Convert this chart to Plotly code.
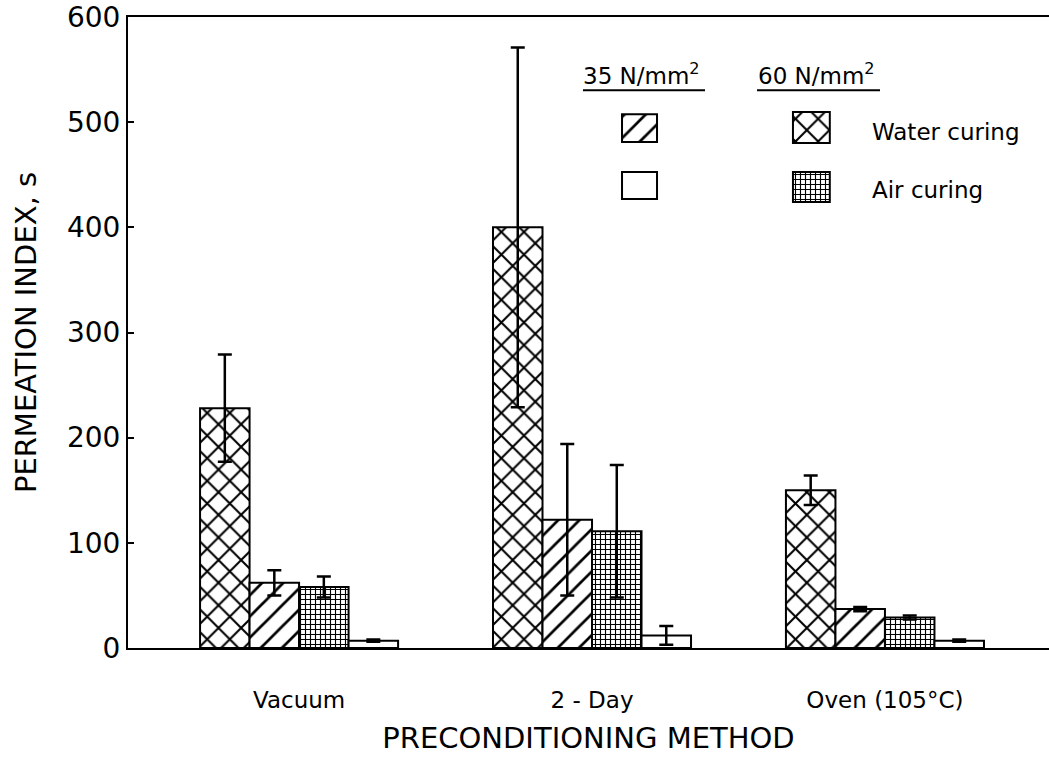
import plotly.graph_objects as go

# ---- data ----
methods = ["Vacuum", "2 - Day", "Oven (105°C)"]
water_60 = [228, 400, 150]
water_60_err = [51, 171, 14]
water_35 = [62, 122, 37]
water_35_err = [12, 72, 2]
air_60 = [58, 111, 29]
air_60_err = [10, 63, 2]
air_35 = [7, 12, 7]
air_35_err = [1, 9, 1]

series = [
    ("60 N/mm² Water curing", water_60, water_60_err, "x", 16, 0.24),
    ("35 N/mm² Water curing", water_35, water_35_err, "/", 15, 0.18),
    ("60 N/mm² Air curing", air_60, air_60_err, "+", 5, 0.4),
    ("35 N/mm² Air curing", air_35, air_35_err, "", 10, 0.1),
]

FONT = "DejaVu Sans"
xpos = list(range(len(methods)))

fig = go.Figure()
for name, vals, errs, shape, size, sol in series:
    fig.add_trace(go.Bar(
        x=xpos, y=vals, name=name,
        marker=dict(color="white", line=dict(color="black", width=2),
                    pattern=dict(shape=shape, size=size, solidity=sol,
                                 fgcolor="black", bgcolor="white", fgopacity=1)),
        error_y=dict(type="data", array=errs, visible=True, color="black",
                     thickness=2.5, width=7),
        showlegend=False,
    ))

# ---- legend swatches (drawn on an overlay axis in paper-like units) ----
leg_x = [0.5554, 0.5554, 0.742, 0.742]
leg_base = [0.802, 0.7116, 0.8003, 0.7068]
leg_h = [0.044, 0.0428, 0.049, 0.0476]
leg_w = [0.038, 0.038, 0.040, 0.040]
leg_shapes = ["/", "", "x", "+"]
leg_sizes = [15, 10, 16, 5]
leg_sol = [0.18, 0.1, 0.24, 0.4]
fig.add_trace(go.Bar(
    x=leg_x, y=leg_h, base=leg_base, width=leg_w, xaxis="x2", yaxis="y2",
    marker=dict(color="white", line=dict(color="black", width=2),
                pattern=dict(shape=leg_shapes, size=leg_sizes, solidity=leg_sol,
                             fgcolor="black", bgcolor="white", fgopacity=1)),
    showlegend=False, hoverinfo="skip",
))

fig.update_layout(
    width=1049, height=778,
    margin=dict(l=128, r=0, t=17, b=130),
    paper_bgcolor="white", plot_bgcolor="white",
    barmode="group", bargap=0.324, bargroupgap=0,
    font=dict(family=FONT, color="black"),
    xaxis=dict(
        range=[-0.584, 2.56], tickvals=xpos, ticktext=methods,
        showline=True, linecolor="black", linewidth=2, mirror=True,
        ticks="", showgrid=False, zeroline=False, automargin=False,
        tickfont=dict(size=23, family=FONT), ticklabelstandoff=30,
        title=dict(text="PRECONDITIONING METHOD", font=dict(size=29, family=FONT),
                   standoff=16),
    ),
    yaxis=dict(
        range=[0, 600], tickvals=[0, 100, 200, 300, 400, 500, 600],
        showline=True, linecolor="black", linewidth=2, mirror=False,
        ticks="inside", ticklen=6, tickwidth=2, tickcolor="black",
        showgrid=False, zeroline=False, ticklabeloverflow="allow",
        automargin=False,
        tickfont=dict(size=28, family=FONT),
        title=dict(text="PERMEATION INDEX, s", font=dict(size=29, family=FONT),
                   standoff=22),
    ),
    xaxis2=dict(domain=[0, 1], range=[0, 1], anchor="y2", overlaying="x",
                visible=False, fixedrange=True),
    yaxis2=dict(domain=[0, 1], range=[0, 1], anchor="x2", overlaying="y",
                visible=False, fixedrange=True),
)

ann = dict(xref="paper", yref="paper", showarrow=False,
           font=dict(size=23, family=FONT, color="black"))
fig.add_annotation(text="35 N/mm<sup>2</sup>", x=0.558, y=0.91, xanchor="center", yanchor="middle", **ann)
fig.add_annotation(text="60 N/mm<sup>2</sup>", x=0.748, y=0.91, xanchor="center", yanchor="middle", **ann)
fig.add_annotation(text="Water curing", x=0.806, y=0.818, xanchor="left", yanchor="middle", **ann)
fig.add_annotation(text="Air curing", x=0.806, y=0.726, xanchor="left", yanchor="middle", **ann)
fig.add_shape(type="line", xref="paper", yref="paper", x0=0.494, x1=0.6265, y0=0.884, y1=0.884,
              line=dict(color="black", width=2))
fig.add_shape(type="line", xref="paper", yref="paper", x0=0.683, x1=0.8165, y0=0.884, y1=0.884,
              line=dict(color="black", width=2))

fig.write_html("out.html",
               config={"displayModeBar": False},
               post_script="document.body.style.margin='0px';document.body.style.overflow='hidden';")
